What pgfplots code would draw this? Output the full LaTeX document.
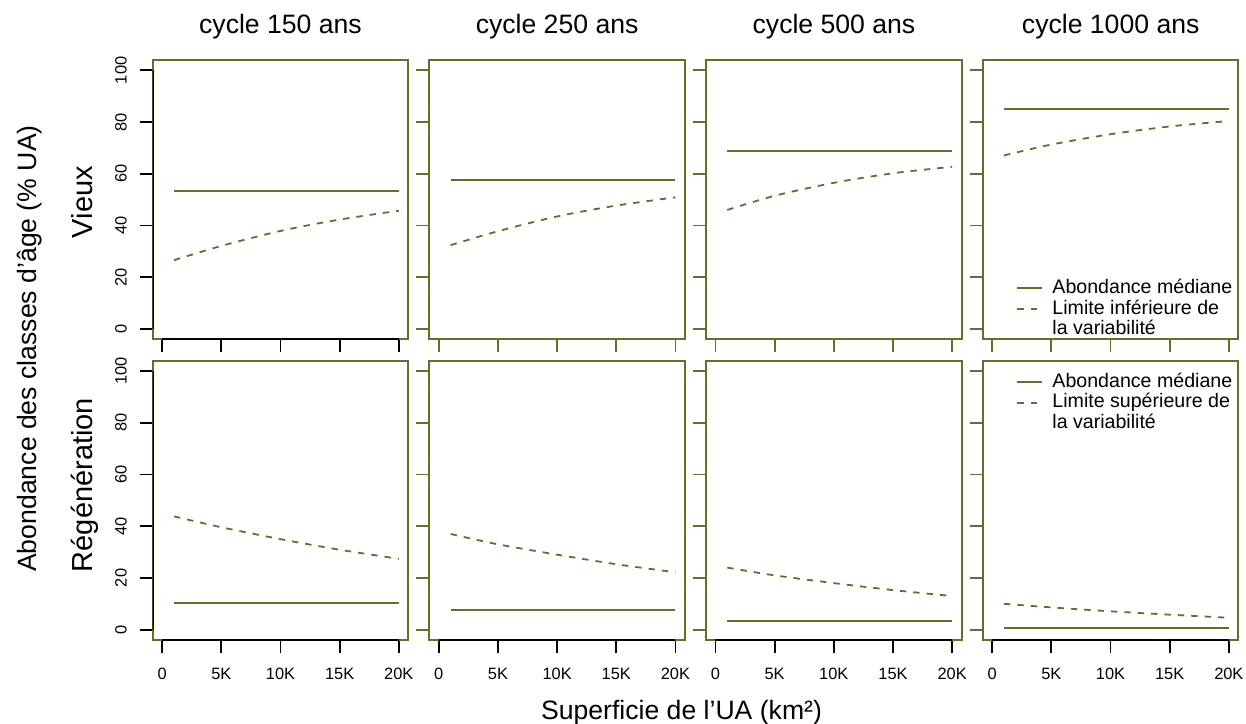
\documentclass[border=0pt]{standalone}
\usepackage{fontspec}
\setmainfont{Liberation Sans}
\usepackage{pgfplots}
\pgfplotsset{compat=1.18}
\definecolor{olv}{HTML}{6B6B2B}

\pgfplotsset{
  panel/.style={
    scale only axis, width=127.8pt, height=139.65pt, anchor=south west,
    xmin=-800, xmax=20800, ymin=-4, ymax=104,
    scaled x ticks=false, scaled y ticks=false,
    xtick={0,5000,10000,15000,20000}, xticklabels={0,5K,10K,15K,20K},
    ytick={0,20,40,60,80,100}, yticklabels={0,20,40,60,80,100},
    xtick pos=bottom, ytick pos=left, tick align=outside,
    major tick length=6.5pt,
    axis line style={olv, line width=0.9pt},
    tick style={olv, line width=0.9pt},
    xticklabel style={anchor=base, font=\fontsize{8.2}{9}\selectfont},
    yticklabel style={rotate=90, anchor=base, font=\fontsize{8.2}{9}\selectfont},
    xticklabel shift=13.15pt, yticklabel shift=6.5pt,
    legend cell align=left,
    legend image code/.code={\draw[#1] (0pt,0.2pt) -- (12.35pt,0.2pt);},
    legend style={draw=none, fill=none, inner sep=0pt, column sep=4.6pt, row sep=0pt,
      font=\fontsize{9.8}{10}\selectfont,
      nodes={text height=7.4pt, text depth=2.45pt, inner sep=0.2pt}},
  },
  nox/.style={xticklabels={}},
  noy/.style={yticklabels={}},
  blackx/.style={xtick style={black}},
  blacky/.style={ytick style={black}},
  med/.style={olv, line width=0.9pt},
  lim/.style={olv, line width=0.9pt, dash pattern=on 3.2pt off 3.5pt},
}

\begin{document}
\begin{tikzpicture}
\path[use as bounding box] (0,0) rectangle (623pt,361.5pt);

% --- Vieux ---
\begin{axis}[panel, at={(76.35pt,191.85pt)}, nox, blackx, blacky]
\addplot[med] coordinates {(1000,53.2) (20000,53.2)};
\addplot[lim, smooth] coordinates {(1000,26.6) (5000,32.1) (10000,37.9) (15000,42.3) (20000,45.7)};
\draw[black, line width=0.9pt] (axis cs:0,-4) -- (axis cs:20000,-4);
\draw[black, line width=0.9pt] (axis cs:-800,0) -- (axis cs:-800,100);
\end{axis}

\begin{axis}[panel, at={(214.65pt,191.85pt)}, nox, noy]
\addplot[med] coordinates {(1000,57.7) (20000,57.7)};
\addplot[lim, smooth] coordinates {(1000,32.4) (5000,37.8) (10000,43.5) (15000,47.7) (20000,50.9)};
\end{axis}

\begin{axis}[panel, at={(353pt,191.85pt)}, nox, noy]
\addplot[med] coordinates {(1000,68.7) (20000,68.7)};
\addplot[lim, smooth] coordinates {(1000,46.0) (5000,51.5) (10000,56.5) (15000,60.2) (20000,62.7)};
\end{axis}

\begin{axis}[panel, at={(491.35pt,191.85pt)}, nox, noy,
  legend style={at={(0.130,0.219)}, anchor=north west}]
\addplot[med] coordinates {(1000,85.2) (20000,85.2)};
\addlegendentry{Abondance médiane}
\addplot[lim, smooth] coordinates {(1000,67.1) (5000,71.3) (10000,75.3) (15000,78.3) (20000,80.4)};
\addlegendentry{Limite inférieure de}
\addlegendimage{empty legend}
\addlegendentry{la variabilité}
\end{axis}

% --- Regeneration ---
\begin{axis}[panel, at={(76.35pt,41.5pt)}, blackx, blacky]
\addplot[med] coordinates {(1000,10.4) (20000,10.4)};
\addplot[lim, smooth] coordinates {(1000,43.8) (5000,39.6) (10000,35.0) (15000,30.9) (20000,27.4)};
\draw[black, line width=0.9pt] (axis cs:0,-4) -- (axis cs:20000,-4);
\draw[black, line width=0.9pt] (axis cs:-800,0) -- (axis cs:-800,100);
\end{axis}

\begin{axis}[panel, at={(214.65pt,41.5pt)}, noy, blackx]
\addplot[med] coordinates {(1000,7.5) (20000,7.5)};
\addplot[lim, smooth] coordinates {(1000,37.0) (5000,33.0) (10000,29.0) (15000,25.3) (20000,22.2)};
\draw[black, line width=0.9pt] (axis cs:0,-4) -- (axis cs:20000,-4);
\end{axis}

\begin{axis}[panel, at={(353pt,41.5pt)}, noy, blackx]
\addplot[med] coordinates {(1000,3.2) (20000,3.2)};
\addplot[lim, smooth] coordinates {(1000,24.0) (5000,21.0) (10000,18.0) (15000,15.3) (20000,13.0)};
\draw[black, line width=0.9pt] (axis cs:0,-4) -- (axis cs:20000,-4);
\end{axis}

\begin{axis}[panel, at={(491.35pt,41.5pt)}, noy, blackx,
  legend style={at={(0.130,0.960)}, anchor=north west}]
\addplot[med] coordinates {(1000,0.5) (20000,0.5)};
\addlegendentry{Abondance médiane}
\addplot[lim, smooth] coordinates {(1000,10.0) (5000,8.6) (10000,7.1) (15000,5.8) (20000,4.6)};
\addlegendentry{Limite supérieure de}
\addlegendimage{empty legend}
\addlegendentry{la variabilité}
\draw[black, line width=0.9pt] (axis cs:0,-4) -- (axis cs:20000,-4);
\end{axis}

% titles and labels
\foreach \cx/\t in {140.25/150, 278.55/250, 417/500, 555.35/1000}
  \node[font=\fontsize{13.3}{14}\selectfont, anchor=base] at (\cx pt,344.75pt) {cycle \t\ ans};
\node[font=\fontsize{14.5}{15}\selectfont, rotate=90, anchor=base] at (46pt,260.5pt) {Vieux};
\node[font=\fontsize{14.5}{15}\selectfont, rotate=90, anchor=base] at (46pt,119pt) {Régénération};
\node[font=\fontsize{13.3}{14}\selectfont, rotate=90, anchor=base] at (18pt,187.25pt) {Abondance des classes d’âge (\% UA)};
\node[font=\fontsize{13.3}{14}\selectfont, anchor=base] at (340.75pt,1.75pt) {Superficie de l’UA (km²)};
\end{tikzpicture}
\end{document}
